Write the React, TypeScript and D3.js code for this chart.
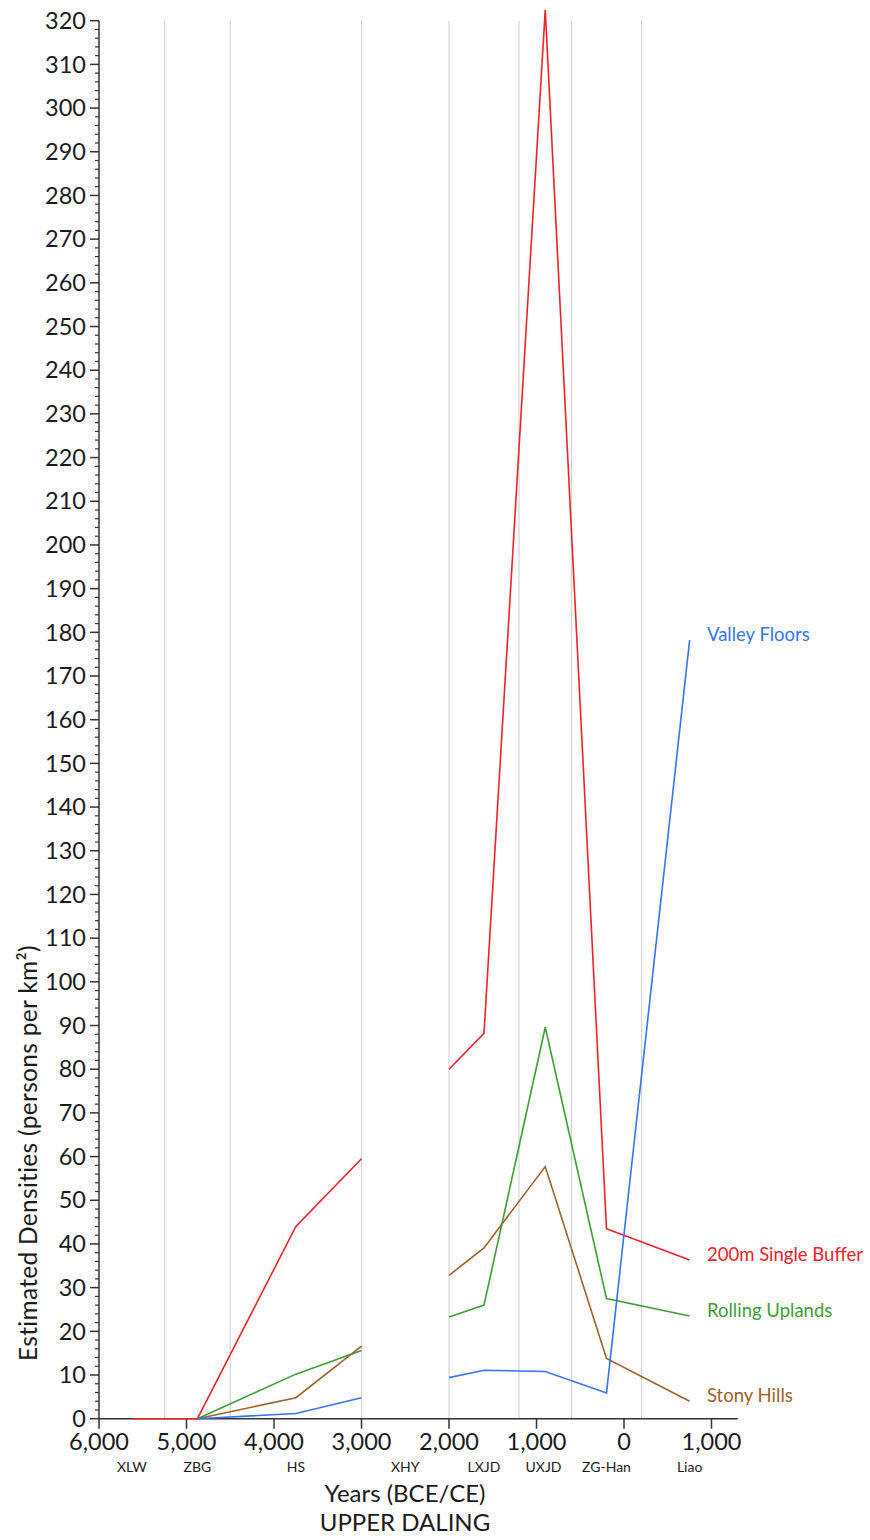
import React from "react";
import * as d3 from "d3";

// Sample years (negative = BCE). The XHY slot at -2500 has no estimate, leaving a gap.
const sampleYears = [-5625, -4875, -3750, -3000, -2500, -2000, -1600, -900, -200, 750];

const singleBuffer = [0, 0, 44, 59.5, null, 80, 88.2, 322.5, 43.5, 36.3];
const rollingUplands = [null, 0, 10.2, 15.6, null, 23.3, 26.0, 89.6, 27.5, 23.5];
const stonyHills = [null, 0, 4.8, 16.6, null, 32.8, 39.1, 57.7, 13.8, 4.0];
const valleyFloors = [null, 0, 1.2, 4.8, null, 9.4, 11.1, 10.8, 5.9, 178.2];

const seriesNames = ["200m Single Buffer", "Rolling Uplands", "Stony Hills", "Valley Floors"];
const seriesColors = ["#f0222a", "#3d9e36", "#9c6128", "#3574ee"];
const seriesValues = [singleBuffer, rollingUplands, stonyHills, valleyFloors];

// Period names, placed at the period's sample year
const periodNames = ["XLW", "ZBG", "HS", "XHY", "LXJD", "UXJD", "ZG-Han", "Liao"];
const periodYears = [-5625, -4875, -3750, -2500, -1600, -920, -200, 750];

// Period boundaries drawn as vertical guides
const periodBoundaries = [-5250, -4500, -3000, -2000, -1200, -600, 200];

const xTickValues = [-6000, -5000, -4000, -3000, -2000, -1000, 0, 1000];

const FONT = "Lato, 'Open Sans', sans-serif";

export default function App() {
  const width = 870;
  const height = 1540;
  const left = 99;
  const top = 20.7;
  const bottom = 1418.7;

  const x = d3.scaleLinear().domain([-6000, 1300]).range([left, left + 7.3 * 87.5]);
  const y = d3.scaleLinear().domain([0, 320]).range([bottom, top]);

  const majorY = d3.range(0, 321, 10);
  const minorY = d3.range(0, 321, 2).filter((v) => v % 10 !== 0);

  const line = d3
    .line<number | null>()
    .defined((d) => d !== null)
    .x((_, i) => x(sampleYears[i]))
    .y((d) => y(d as number));

  const fmt = d3.format(",");
  const [x0, x1] = x.range();

  return (
    <svg
      width={width}
      height={height}
      style={{ position: "absolute", left: 0, top: 0, background: "#fff" }}
      fontFamily={FONT}
    >
      <rect width={width} height={height} fill="#fff" />

      {/* period boundaries */}
      {periodBoundaries.map((b) => (
        <line key={b} x1={x(b)} x2={x(b)} y1={top} y2={bottom} stroke="#d4d4d4" strokeWidth={1.2} />
      ))}

      {/* y axis */}
      <line x1={left} x2={left} y1={top} y2={bottom} stroke="#333" strokeWidth={1.5} />
      {minorY.map((v) => (
        <line key={"m" + v} x1={left - 4} x2={left} y1={y(v)} y2={y(v)} stroke="#333" strokeWidth={1.2} />
      ))}
      {majorY.map((v) => (
        <g key={"M" + v}>
          <line x1={left - 9} x2={left} y1={y(v)} y2={y(v)} stroke="#333" strokeWidth={1.5} />
          <text x={86} y={y(v)} dy="0.35em" textAnchor="end" fontSize={23.5} fill="#1a1a1a">
            {v}
          </text>
        </g>
      ))}

      {/* x axis */}
      <line x1={x0} x2={x1} y1={bottom} y2={bottom} stroke="#333" strokeWidth={1.5} />
      {xTickValues.map((v) => (
        <g key={"x" + v}>
          <line x1={x(v)} x2={x(v)} y1={bottom} y2={bottom + 10} stroke="#333" strokeWidth={1.5} />
          <text x={x(v)} y={1449.5} textAnchor="middle" fontSize={23.5} fill="#1a1a1a">
            {fmt(Math.abs(v))}
          </text>
        </g>
      ))}
      {periodNames.map((n, i) => (
        <text key={n} x={x(periodYears[i])} y={1472} textAnchor="middle" fontSize={14} fill="#1a1a1a">
          {n}
        </text>
      ))}

      {/* axis titles */}
      <text x={405} y={1501.5} textAnchor="middle" fontSize={24} fill="#1a1a1a">
        Years (BCE/CE)
      </text>
      <text x={405} y={1530.5} textAnchor="middle" fontSize={24} fill="#1a1a1a">
        UPPER DALING
      </text>
      <text
        transform={`translate(37,1361) rotate(-90)`}
        textAnchor="start"
        fontSize={24.5}
        letterSpacing={0.3}
        fill="#1a1a1a"
      >
        Estimated Densities (persons per km²)
      </text>

      {/* series */}
      {seriesValues.map((vals, i) => (
        <path key={seriesNames[i]} d={line(vals) || ""} fill="none" stroke={seriesColors[i]} strokeWidth={1.6} />
      ))}

      {/* end labels */}
      {seriesValues.map((vals, i) => {
        const last = vals[vals.length - 1] as number;
        return (
          <text key={"l" + i} x={707} y={y(last) + 0.5} fontSize={18.5} fill={seriesColors[i]}>
            {seriesNames[i]}
          </text>
        );
      })}
    </svg>
  );
}
